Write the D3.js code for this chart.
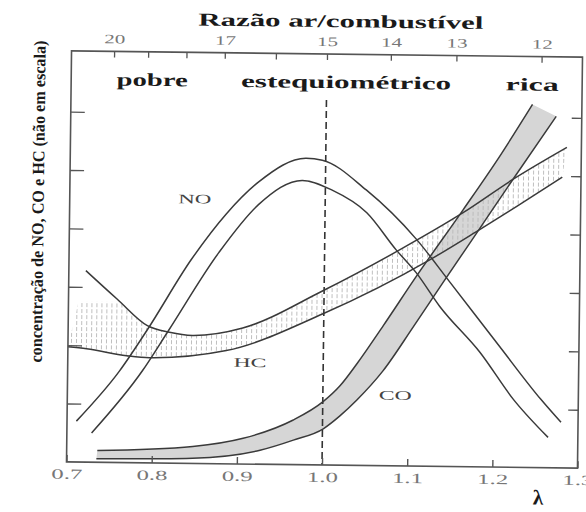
<!DOCTYPE html>
<html>
<head>
<meta charset="utf-8">
<script src="https://cdn.jsdelivr.net/npm/d3@7"></script>
<style>
  body { margin: 0; background: #fff; }
  svg { display: block; }
</style>
</head>
<body>
<svg id="chart" width="586" height="512"></svg>
<script>
// Bottom axis: excess-air factor λ
const lambdaTicks = [0.7, 0.8, 0.9, 1.0, 1.1, 1.2, 1.3];
const lambdaLabels = ["0.7", "0.8", "0.9", "1.0", "1.1", "1.2", "1.3"];
// Top axis: air/fuel ratio and the λ each value sits at
const afrValues = [20, 19, 18, 17, 16, 15, 14, 13, 12];
const afrLambda = [0.75, 0.79, 0.835, 0.88, 0.94, 1.0, 1.075, 1.152, 1.252];
const afrLabelled = [20, 17, 15, 14, 13, 12];
// Concentration axis (arbitrary units, no labels)
const concTicks = [1, 2, 3, 4, 5, 6];
const mixtureZones = ["pobre", "estequiométrico", "rica"];

// Each emission band is bounded by an upper and a lower curve: [λ, concentration]
const noUpper = [[0.711, 0.70], [0.761, 1.57], [0.793, 2.28], [0.844, 3.50], [0.884, 4.28],
  [0.922, 4.84], [0.977, 5.25], [0.996, 5.22], [1.048, 4.72], [1.108, 3.88],
  [1.148, 3.15], [1.205, 2.10], [1.256, 1.17], [1.280, 0.78]];
const noLower = [[0.729, 0.50], [0.788, 1.58], [0.817, 2.25], [0.876, 3.62], [0.922, 4.45],
  [0.973, 4.87], [1.008, 4.71], [1.049, 4.33], [1.084, 3.70], [1.108, 3.31],
  [1.136, 2.74], [1.184, 1.96], [1.224, 1.16], [1.265, 0.52]];

const hcUpper = [[0.720, 3.28], [0.757, 2.80], [0.793, 2.35], [0.819, 2.24], [0.846, 2.19],
  [0.905, 2.33], [0.998, 2.98], [1.088, 3.70], [1.162, 4.35], [1.220, 4.93], [1.283, 5.49]];
const hcLower = [[0.700, 1.97], [0.722, 1.94], [0.769, 1.83], [0.796, 1.80], [0.886, 1.94],
  [0.999, 2.59], [1.124, 3.54], [1.178, 4.03], [1.225, 4.47], [1.278, 4.98]];

const coUpper = [[0.736, 0.20], [0.848, 0.29], [0.907, 0.44], [0.965, 0.76], [1.000, 1.08],
  [1.020, 1.36], [1.040, 1.75], [1.070, 2.40], [1.108, 3.25], [1.162, 4.40], [1.204, 5.32],
  [1.242, 6.22]];
const coLower = [[0.735, 0.06], [0.848, 0.09], [0.927, 0.24], [0.966, 0.42], [1.001, 0.62],
  [1.020, 0.84], [1.040, 1.12], [1.070, 1.62], [1.105, 2.38], [1.139, 3.14], [1.178, 4.00],
  [1.220, 4.93], [1.270, 6.02]];

// Series names and the [λ, concentration] point each name is written at
const seriesNames = ["NO", "HC", "CO"];
const seriesLabelAt = [[0.847, 4.54], [0.914, 1.75], [1.085, 1.22]];

const svg = d3.select("#chart");
const serif = "'Liberation Serif', 'DejaVu Serif', serif";

const plotLeft = 69, plotRight = 580, plotTop = 54, plotBottom = 465;
const x = d3.scaleLinear().domain([0.7, 1.3]).range([plotLeft, plotRight]);
const y = d3.scaleLinear().domain([0, 7.04]).range([plotBottom, plotTop]);
const afr = d3.scaleLinear().domain(afrValues).range(afrLambda.map(x));

const defs = svg.append("defs");
const hatch = defs.append("pattern").attr("id", "hatch")
  .attr("patternUnits", "userSpaceOnUse").attr("width", 5).attr("height", 6);
hatch.append("line").attr("x1", 2.5).attr("x2", 2.5).attr("y1", 0).attr("y2", 4)
  .attr("stroke", "#b8b8b8").attr("stroke-width", 0.9);

// hatching on the far left only reaches part way up the HC band
const hcClip = defs.append("clipPath").attr("id", "hcClip");
hcClip.append("rect").attr("x", plotLeft).attr("width", x(0.765) - plotLeft)
  .attr("y", y(2.75)).attr("height", plotBottom - y(2.75));
hcClip.append("rect").attr("x", x(0.765)).attr("width", plotRight - x(0.765))
  .attr("y", plotTop).attr("height", plotBottom - plotTop);

const g = svg.append("g").attr("transform", "rotate(0.7, 324, 260)");

const line = d3.line().x(d => x(d[0])).y(d => y(d[1])).curve(d3.curveMonotoneX);
function bandPath(upper, lower) {
  const a = line(upper);
  const b = line(lower.slice().reverse());
  return a + "L" + b.slice(1) + "Z";
}

// band fills
g.append("path").attr("d", bandPath(coUpper, coLower)).attr("fill", "#d6d6d6");
g.append("path").attr("d", bandPath(hcUpper, hcLower)).attr("fill", "url(#hatch)")
  .attr("clip-path", "url(#hcClip)");

// stoichiometric line λ = 1
g.append("line").attr("x1", x(1)).attr("x2", x(1)).attr("y1", 100).attr("y2", plotBottom)
  .attr("stroke", "#333").attr("stroke-width", 1.6).attr("stroke-dasharray", "7,4");

// band outlines
const curves = [noUpper, noLower, hcUpper, hcLower, coUpper, coLower];
g.selectAll("path.curve").data(curves).join("path").attr("class", "curve")
  .attr("d", line).attr("fill", "none").attr("stroke", "#3a3a3a").attr("stroke-width", 1.5);

// frame
g.append("rect").attr("x", plotLeft).attr("y", plotTop)
  .attr("width", plotRight - plotLeft).attr("height", plotBottom - plotTop)
  .attr("fill", "none").attr("stroke", "#555").attr("stroke-width", 1.6);

// axes
const tickColor = "#555";
const bottomAxis = g.append("g").attr("transform", `translate(0,${plotBottom})`)
  .call(d3.axisBottom(x).tickValues(lambdaTicks)
    .tickFormat((d, i) => lambdaLabels[i]).tickSizeInner(-7).tickSizeOuter(0).tickPadding(7));
bottomAxis.select(".domain").remove();
bottomAxis.selectAll("line").attr("stroke", tickColor).attr("stroke-width", 1.4);
bottomAxis.selectAll("text").attr("font-family", serif).attr("font-size", 14)
  .attr("fill", "#777").attr("textLength", 31).attr("lengthAdjust", "spacingAndGlyphs");

const topAxis = g.append("g").attr("transform", `translate(0,${plotTop})`)
  .call(d3.axisTop(afr).tickValues(afrValues)
    .tickFormat(d => afrLabelled.includes(d) ? d : "").tickSizeInner(-6).tickSizeOuter(0).tickPadding(8));
topAxis.select(".domain").remove();
topAxis.selectAll("line").attr("stroke", tickColor).attr("stroke-width", 1.3);
topAxis.selectAll("text").attr("font-family", serif).attr("font-size", 13)
  .attr("fill", "#777")
  .filter(d => afrLabelled.includes(d))
  .attr("textLength", 21).attr("lengthAdjust", "spacingAndGlyphs");

const leftAxis = g.append("g").attr("transform", `translate(${plotLeft},0)`)
  .call(d3.axisLeft(y).tickValues(concTicks).tickFormat("").tickSizeInner(-14).tickSizeOuter(0));
leftAxis.select(".domain").remove();
leftAxis.selectAll("line").attr("stroke", tickColor).attr("stroke-width", 1.3);

const rightAxis = g.append("g").attr("transform", `translate(${plotRight},0)`)
  .call(d3.axisRight(y).tickValues(concTicks).tickFormat("").tickSizeInner(-10).tickSizeOuter(0));
rightAxis.select(".domain").remove();
rightAxis.selectAll("line").attr("stroke", tickColor).attr("stroke-width", 1.3);

// series names
g.selectAll("text.series").data(seriesNames).join("text").attr("class", "series")
  .attr("x", (d, i) => x(seriesLabelAt[i][0])).attr("y", (d, i) => y(seriesLabelAt[i][1]) + 5)
  .attr("text-anchor", "middle").attr("font-family", serif).attr("font-size", 13)
  .attr("fill", "#444").attr("textLength", 33).attr("lengthAdjust", "spacingAndGlyphs")
  .text(d => d);

// mixture zones
const zoneX = [150, 344, 530], zoneW = [71, 210, 53];
g.selectAll("text.zone").data(mixtureZones).join("text").attr("class", "zone")
  .attr("x", (d, i) => zoneX[i]).attr("y", 88).attr("text-anchor", "middle")
  .attr("font-family", serif).attr("font-weight", "bold").attr("font-size", 18)
  .attr("fill", "#1a1a1a").attr("textLength", (d, i) => zoneW[i]).attr("lengthAdjust", "spacingAndGlyphs")
  .text(d => d);

// titles
g.append("text").attr("x", 338).attr("y", 27).attr("text-anchor", "middle")
  .attr("font-family", serif).attr("font-weight", "bold").attr("font-size", 18).attr("fill", "#1a1a1a")
  .attr("textLength", 285).attr("lengthAdjust", "spacingAndGlyphs")
  .text("Razão ar/combustível");

g.append("text").attr("transform", "translate(43,205) rotate(-90)").attr("text-anchor", "middle")
  .attr("font-family", serif).attr("font-weight", "bold").attr("font-size", 17).attr("fill", "#1a1a1a")
  .attr("textLength", 322).attr("lengthAdjust", "spacingAndGlyphs")
  .text("concentração de NO, CO e HC (não em escala)");

g.append("text").attr("x", 541).attr("y", 502).attr("text-anchor", "middle")
  .attr("font-family", serif).attr("font-weight", "bold").attr("font-size", 21).attr("fill", "#1a1a1a")
  .text("λ");
</script>
</body>
</html>
